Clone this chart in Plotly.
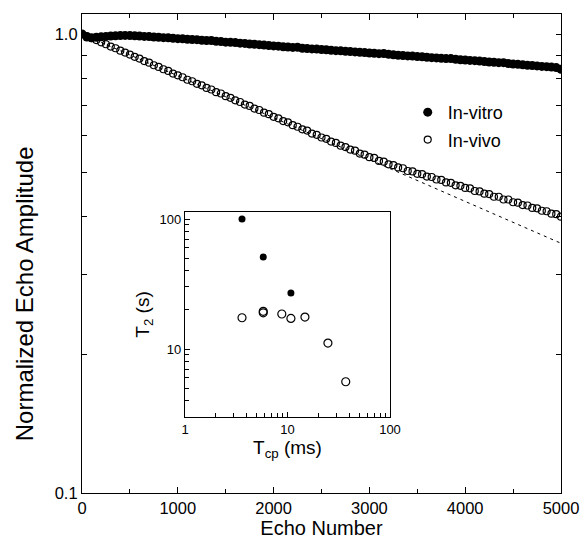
import plotly.graph_objects as go

# ---------------- data ----------------
echo = [0, 50, 100, 150, 200, 250, 300, 350, 400, 450,
        500, 550, 600, 650, 700, 750, 800, 850, 900, 950,
        1000, 1050, 1100, 1150, 1200, 1250, 1300, 1350, 1400, 1450,
        1500, 1550, 1600, 1650, 1700, 1750, 1800, 1850, 1900, 1950,
        2000, 2050, 2100, 2150, 2200, 2250, 2300, 2350, 2400, 2450,
        2500, 2550, 2600, 2650, 2700, 2750, 2800, 2850, 2900, 2950,
        3000, 3050, 3100, 3150, 3200, 3250, 3300, 3350, 3400, 3450,
        3500, 3550, 3600, 3650, 3700, 3750, 3800, 3850, 3900, 3950,
        4000, 4050, 4100, 4150, 4200, 4250, 4300, 4350, 4400, 4450,
        4500, 4550, 4600, 4650, 4700, 4750, 4800, 4850, 4900, 4950, 5000]

in_vitro = [1.000, 0.985, 0.982, 0.984, 0.986, 0.988, 0.990, 0.991, 0.992, 0.993,
            0.992, 0.991, 0.990, 0.988, 0.987, 0.985, 0.984, 0.982, 0.981, 0.979,
            0.977, 0.976, 0.974, 0.973, 0.972, 0.969, 0.968, 0.968, 0.964, 0.963,
            0.960, 0.959, 0.958, 0.955, 0.954, 0.951, 0.950, 0.948, 0.946, 0.944,
            0.942, 0.941, 0.938, 0.937, 0.935, 0.936, 0.931, 0.930, 0.928, 0.927,
            0.925, 0.924, 0.922, 0.920, 0.919, 0.917, 0.916, 0.914, 0.912, 0.911,
            0.909, 0.908, 0.906, 0.907, 0.903, 0.901, 0.899, 0.898, 0.896, 0.895,
            0.893, 0.892, 0.890, 0.888, 0.887, 0.885, 0.884, 0.884, 0.881, 0.879,
            0.878, 0.876, 0.875, 0.873, 0.871, 0.869, 0.868, 0.866, 0.866, 0.862,
            0.860, 0.859, 0.857, 0.855, 0.854, 0.852, 0.850, 0.849, 0.847, 0.845, 0.838]

in_vivo = [1.000, 0.990, 0.979, 0.970, 0.959, 0.950, 0.939, 0.931, 0.920, 0.911,
           0.902, 0.892, 0.884, 0.873, 0.866, 0.855, 0.848, 0.838, 0.831, 0.820,
           0.813, 0.805, 0.795, 0.789, 0.779, 0.773, 0.763, 0.757, 0.747, 0.742,
           0.732, 0.726, 0.717, 0.711, 0.702, 0.697, 0.688, 0.683, 0.674, 0.669,
           0.660, 0.655, 0.646, 0.642, 0.633, 0.628, 0.620, 0.616, 0.607, 0.603,
           0.595, 0.591, 0.583, 0.579, 0.571, 0.567, 0.560, 0.557, 0.549, 0.546,
           0.539, 0.537, 0.529, 0.527, 0.520, 0.518, 0.512, 0.510, 0.503, 0.502,
           0.496, 0.495, 0.489, 0.488, 0.482, 0.481, 0.475, 0.474, 0.468, 0.467,
           0.462, 0.461, 0.455, 0.454, 0.449, 0.448, 0.442, 0.442, 0.436, 0.436,
           0.430, 0.429, 0.424, 0.423, 0.418, 0.417, 0.412, 0.411, 0.406, 0.405, 0.400]

fit_echo = [0, 5000]
fit_amp = [1.0, 0.35]

# inset data
tcp_vitro = [3.6, 5.8, 10.8]
t2_vitro = [100, 51, 27]
tcp_vivo = [3.6, 5.8, 5.8, 8.8, 10.8, 14.8, 24.8, 37]
t2_vivo = [17.4, 19.0, 19.5, 18.6, 17.2, 17.6, 11.1, 5.6]

main_xticks = [0, 1000, 2000, 3000, 4000, 5000]
main_xminor = [500, 1500, 2500, 3500, 4500]
main_yticks = [0.1, 0.2, 0.3, 0.4, 0.5, 0.6, 0.7, 0.8, 0.9, 1.0]
main_ytext = ["0.1", "", "", "", "", "", "", "", "", "1.0"]
inset_xticks = [1, 10, 100]
inset_xminor = [2, 3, 4, 5, 6, 7, 8, 9, 20, 30, 40, 50, 60, 70, 80, 90]
inset_yticks = [10, 100]
inset_yminor = [4, 5, 6, 7, 8, 9, 20, 30, 40, 50, 60, 70, 80, 90]

FONT = "Liberation Sans, Arial, Helvetica, sans-serif"

fig = go.Figure()
fig.add_trace(go.Scatter(x=fit_echo, y=fit_amp, mode="lines",
                         line=dict(color="black", width=1, dash="3px,4px"),
                         showlegend=False, hoverinfo="skip"))
fig.add_trace(go.Scatter(x=echo, y=in_vivo, mode="markers", name="In-vivo",
                         legendrank=2, legendgroup="b",
                         marker=dict(symbol="circle-open", size=7, color="black",
                                     line=dict(width=1.2, color="black"))))
fig.add_trace(go.Scatter(x=echo, y=in_vitro, mode="markers", name="In-vitro",
                         legendrank=1, legendgroup="a",
                         marker=dict(symbol="circle", size=9, color="black")))

fig.add_trace(go.Scatter(x=tcp_vitro, y=t2_vitro, mode="markers", xaxis="x2", yaxis="y2",
                         showlegend=False,
                         marker=dict(symbol="circle", size=7, color="black")))
fig.add_trace(go.Scatter(x=tcp_vivo, y=t2_vivo, mode="markers", xaxis="x2", yaxis="y2",
                         showlegend=False,
                         marker=dict(symbol="circle-open", size=8, color="black",
                                     line=dict(width=1.2, color="black"))))

axis_common = dict(showline=True, linecolor="black", linewidth=1.2, showgrid=False,
                   zeroline=False, ticks="inside", tickcolor="black", automargin=False,
                   tickfont=dict(size=16.5, color="black", family=FONT))

fig.update_layout(
    width=581, height=543,
    margin=dict(l=82, r=20, t=14, b=50),
    paper_bgcolor="white", plot_bgcolor="white",
    font=dict(family=FONT, color="black"),
    xaxis=dict(axis_common, range=[0, 5000], domain=[0, 1], mirror="ticks",
               tickvals=main_xticks, ticklen=6, tickwidth=1.2,
               minor=dict(tickvals=main_xminor, ticks="inside", ticklen=4, tickcolor="black"),
               title=dict(text="Echo Number", font=dict(size=20, family=FONT, color="black"),
                          standoff=0)),
    yaxis=dict(axis_common, type="log", range=[-1, 0.0436], domain=[0, 1], mirror="ticks",
               tickvals=main_yticks, ticktext=main_ytext, ticklen=5, tickwidth=1.2),
    xaxis2=dict(axis_common, type="log", range=[0, 2], domain=[0.215, 0.643], anchor="y2",
                mirror=True, tickvals=inset_xticks, ticktext=["1", "10", "100"], ticklen=5,
                tickfont=dict(size=13, color="black", family=FONT),
                minor=dict(tickvals=inset_xminor, ticks="inside", ticklen=4, tickcolor="black"),
                title=dict(text="T<sub>cp</sub> (ms)", font=dict(size=19, family=FONT, color="black"),
                           standoff=4)),
    yaxis2=dict(axis_common, type="log", range=[0.477, 2.054], domain=[0.1587, 0.5866], anchor="x2",
                mirror=True, tickvals=inset_yticks, ticktext=["10", "100"], ticklen=5,
                tickfont=dict(size=13, color="black", family=FONT),
                minor=dict(tickvals=inset_yminor, ticks="inside", ticklen=4, tickcolor="black"),
                title=dict(text="T<sub>2</sub> (s)", font=dict(size=19, family=FONT, color="black"),
                           standoff=4)),
    legend=dict(x=0.68, y=0.833, xanchor="left", yanchor="top",
                bgcolor="rgba(0,0,0,0)", font=dict(size=18, family=FONT, color="black"),
                tracegroupgap=1),
    annotations=[dict(text="Normalized Echo Amplitude", textangle=-90,
                      xref="paper", yref="paper", x=-0.121, y=0.415,
                      xanchor="center", yanchor="middle", showarrow=False,
                      font=dict(size=24, family=FONT, color="black"))],
)

fig.write_html("out.html", config={"displayModeBar": False},
               post_script="document.body.style.margin='0px';")
